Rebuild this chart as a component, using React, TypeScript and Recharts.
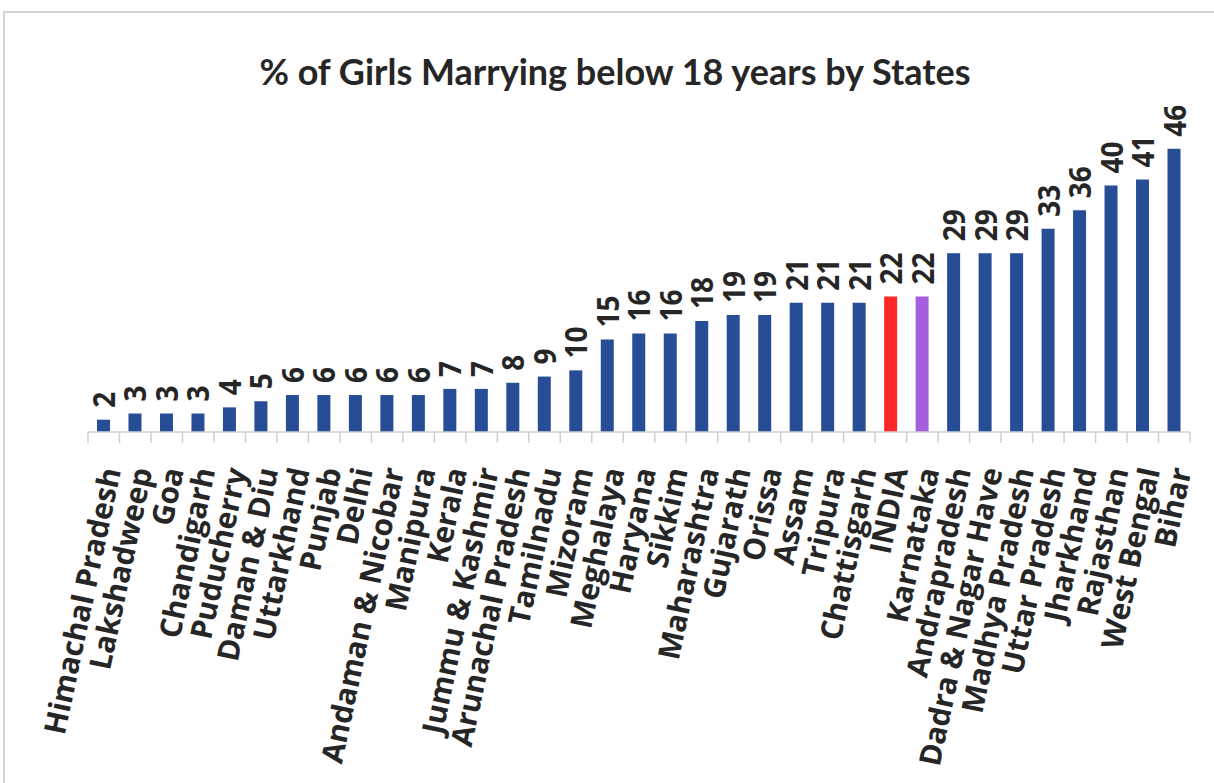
import { BarChart, Bar, XAxis, YAxis, Cell, LabelList } from "recharts";

const states = [
  "Himachal Pradesh", "Lakshadweep", "Goa", "Chandigarh", "Puducherry", "Daman & Diu",
  "Uttarkhand", "Punjab", "Delhi", "Andaman & Nicobar", "Manipura", "Kerala",
  "Jummu & Kashmir", "Arunachal Pradesh", "Tamilnadu", "Mizoram", "Meghalaya", "Haryana",
  "Sikkim", "Maharashtra", "Gujarath", "Orissa", "Assam", "Tripura", "Chattisgarh",
  "INDIA", "Karnataka", "Andrapradesh", "Dadra & Nagar Have", "Madhya Pradesh",
  "Uttar Pradesh", "Jharkhand", "Rajasthan", "West Bengal", "Bihar",
];
const percent = [
  2, 3, 3, 3, 4, 5, 6, 6, 6, 6, 6, 7, 7, 8, 9, 10, 15, 16, 16, 18, 19, 19, 21, 21, 21,
  22, 22, 29, 29, 29, 33, 36, 40, 41, 46,
];

const data = states.map((s, i) => ({ state: s, pct: percent[i] }));

const W = 1214;
const H = 783;
const margin = { top: 124, right: 24, bottom: 0, left: 88 };
const step = (W - margin.left - margin.right) / states.length;

const BLUE = "#264D96";
const highlight: Record<string, string> = { INDIA: "#FF2828", Karnataka: "#A55EE0" };
const labelFont = "'Open Sans', sans-serif";

function StateTick(props: any) {
  const { x, y, payload, index } = props;
  const left = x - step / 2;
  const ax = x + 7;
  const ay = y + 28;
  return (
    <g>
      <line x1={left} y1={y - 8} x2={left} y2={y + 3} stroke="#d0d0d0" strokeWidth={1.5} />
      {index === states.length - 1 && (
        <line x1={x + step / 2} y1={y - 8} x2={x + step / 2} y2={y + 3} stroke="#d0d0d0" strokeWidth={1.5} />
      )}
      <text
        x={ax}
        y={ay}
        transform={`rotate(-78, ${ax}, ${ay})`}
        textAnchor="end"
        dy="0.35em"
        fontFamily={labelFont}
        fontWeight={700}
        fontSize={30}
        fill="#262626"
      >
        {payload.value}
      </text>
    </g>
  );
}

function ValueLabel(props: any) {
  const { x, y, width, value } = props;
  const cx = x + width / 2;
  const cy = y - 12;
  return (
    <text
      x={0}
      y={0}
      transform={`translate(${cx}, ${cy}) scale(1.1, 1) rotate(-90)`}
      textAnchor="start"
      dominantBaseline="central"
      fontFamily={labelFont}
      fontWeight={700}
      fontSize={28}
      fill="#262626"
    >
      {value}
    </text>
  );
}

export default function App() {
  return (
    <div style={{ position: "absolute", left: 0, top: 0, width: W, height: H, background: "#fff", overflow: "hidden" }}>
      <div
        style={{
          position: "absolute",
          left: 3,
          top: 11,
          width: W + 10,
          height: H + 10,
          border: "2px solid #d4d4d4",
        }}
      />
      <div
        style={{
          position: "absolute",
          left: 0,
          width: 1230,
          top: 49,
          textAlign: "center",
          fontFamily: "Lato, 'Liberation Sans', sans-serif",
          fontWeight: 700,
          fontSize: 36,
          color: "#262626",
        }}
      >
        % of Girls Marrying below 18 years by States
      </div>
      <div style={{ position: "absolute", left: 0, top: 0 }}>
        <BarChart width={W} height={H} data={data} margin={margin}>
          <YAxis hide domain={[0, 50]} />
          <XAxis
            dataKey="state"
            interval={0}
            height={H - 432}
            tickLine={false}
            axisLine={{ stroke: "#d0d0d0", strokeWidth: 1.5 }}
            tick={<StateTick />}
          />
          <Bar dataKey="pct" barSize={13} isAnimationActive={false}>
            {data.map((d) => (
              <Cell key={d.state} fill={highlight[d.state] ?? BLUE} />
            ))}
            <LabelList dataKey="pct" content={<ValueLabel />} />
          </Bar>
        </BarChart>
      </div>
    </div>
  );
}
